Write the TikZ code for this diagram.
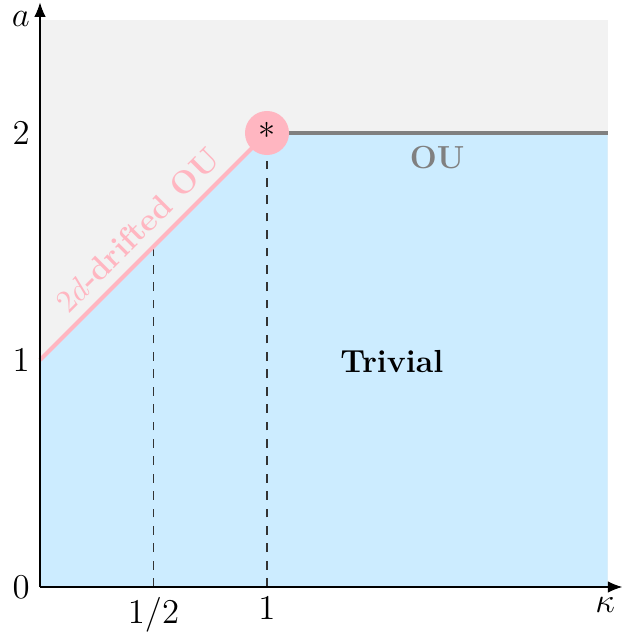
\documentclass[tikz,border=0pt]{standalone}
\usetikzlibrary{arrows.meta}
\definecolor{bgray}{RGB}{242,242,242}
\definecolor{lblue}{RGB}{204,236,255}
\definecolor{lpink}{RGB}{255,182,193}
\definecolor{mgray}{RGB}{128,128,128}
\begin{document}
\begin{tikzpicture}[x=2.75cm,y=2.75cm,
  axis/.style={-{Latex[length=5pt,width=4pt]},black},
  guide/.style={dashed,black!80},
  lab/.style={font=\large},
  region/.style={font=\fontsize{11}{13}\selectfont\bfseries}]
\useasboundingbox (-0.17621,-0.20705) rectangle (2.57269,2.58590);
\fill[bgray] (0,0) rectangle (2.5,2.5);
\fill[lblue] (0,0) -- (0,1) -- (1,2) -- (2.5,2) -- (2.5,0) -- cycle;
\coordinate (O) at (0,0);
\coordinate (A) at (0,1);
\coordinate (S) at (1,2);
\coordinate (E) at (2.5,2);
\coordinate (H) at (0.5,1.5);
\coordinate (Hb) at (0.5,0);
\coordinate (Sb) at (1,0);
\draw[guide] (Hb) -- (H);
\draw[guide] (Sb) -- (S);
\draw[lpink,line width=1.4pt] (A) -- node[midway,above,sloped,text=lpink,region] {$2d$-drifted OU} (S);
\draw[mgray,line width=1.4pt] (S) -- (E);
\fill[lpink] (S) circle (0.097);
\node[lab,inner sep=0pt] (star) at (1,1.99) {*};
\node[region,text=mgray] (ou) at (1.75,1.89) {OU};
\node[region] (triv) at (1.55,0.995) {Trivial};
\coordinate (XE) at (2.565,0);
\coordinate (YE) at (0,2.575);
\draw[axis] (O) -- (XE);
\draw[axis] (O) -- (YE);
\node[lab,left] (l0) at (0,0) {$0$};
\node[lab,left] (l1) at (0,1) {$1$};
\node[lab,left] (l2) at (0,2) {$2$};
\node[lab,left] (la) at (0,2.5) {$a$};
\node[lab,below] (lh) at (0.5,0) {$1/2$};
\node[lab,below] (lk1) at (1,0) {$1$};
\node[lab,below] (lk) at (2.49,0) {$\kappa$};
\end{tikzpicture}
\end{document}
